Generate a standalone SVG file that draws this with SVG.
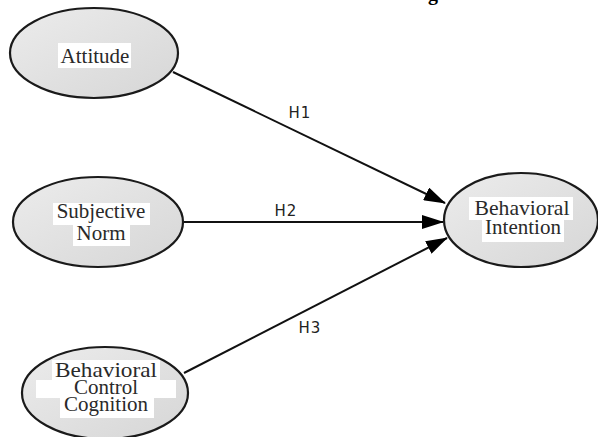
<svg xmlns="http://www.w3.org/2000/svg" width="598" height="437" viewBox="0 0 598 437">
<style>
.node ellipse{fill:url(#g);stroke:#1a1a1a;stroke-width:2.2}
.node rect{fill:#fff}
.node text{font-family:"Liberation Serif","Times New Roman",serif;font-size:21px;fill:#2a2a2a;text-anchor:middle}
.edge{stroke:#111;stroke-width:2;fill:none;marker-end:url(#arr)}
.lbl{font-family:"DejaVu Sans","Liberation Sans",sans-serif;font-size:15px;fill:#222;text-anchor:middle;letter-spacing:1px}
</style>
<defs>
<linearGradient id="g" x1="0" y1="0" x2="1" y2="1">
<stop offset="0" stop-color="#ececec"/>
<stop offset="1" stop-color="#d6d6d6"/>
</linearGradient>
<marker id="arr" markerWidth="22" markerHeight="14" refX="21" refY="7" orient="auto" markerUnits="userSpaceOnUse">
<path d="M0,0 L22,7 L0,14 Z" fill="#000"/>
</marker>
</defs>
<text x="428" y="0" style="font-family:'Liberation Serif',serif;font-size:20px;font-weight:bold" fill="#000">g</text>
<g id="connectors">
<line class="edge" x1="173" y1="72" x2="445" y2="203"/>
<line class="edge" x1="183" y1="222" x2="443" y2="222"/>
<line class="edge" x1="184" y1="373" x2="447" y2="238"/>
<text class="lbl" x="300" y="118">H1</text>
<text class="lbl" x="286" y="216">H2</text>
<text class="lbl" x="310" y="333">H3</text>
</g>
<g id="attitude" class="node">
<ellipse cx="94" cy="53" rx="84" ry="45"/>
<rect x="58" y="43" width="73" height="25"/>
<text x="95" y="63">Attitude</text>
</g>
<g id="subjective-norm" class="node">
<ellipse cx="98" cy="222" rx="85" ry="45"/>
<rect x="53" y="203" width="97" height="22"/>
<rect x="73" y="225" width="57" height="21"/>
<text x="101" y="218">Subjective</text>
<text x="101" y="240">Norm</text>
</g>
<g id="behavioral-control-cognition" class="node">
<ellipse cx="105" cy="393" rx="83" ry="46"/>
<rect x="52" y="360" width="108" height="20"/>
<rect x="36" y="380" width="140" height="18"/>
<rect x="60" y="398" width="94" height="20"/>
<text x="106" y="377" textLength="102" lengthAdjust="spacingAndGlyphs">Behavioral</text>
<text x="106" y="394">Control</text>
<text x="106" y="411">Cognition</text>
</g>
<g id="behavioral-intention" class="node">
<ellipse cx="521" cy="220" rx="77" ry="47"/>
<rect x="469" y="197" width="104" height="23"/>
<rect x="482" y="220" width="82" height="22"/>
<text x="522" y="215" textLength="95" lengthAdjust="spacingAndGlyphs">Behavioral</text>
<text x="523" y="234">Intention</text>
</g>
</svg>
